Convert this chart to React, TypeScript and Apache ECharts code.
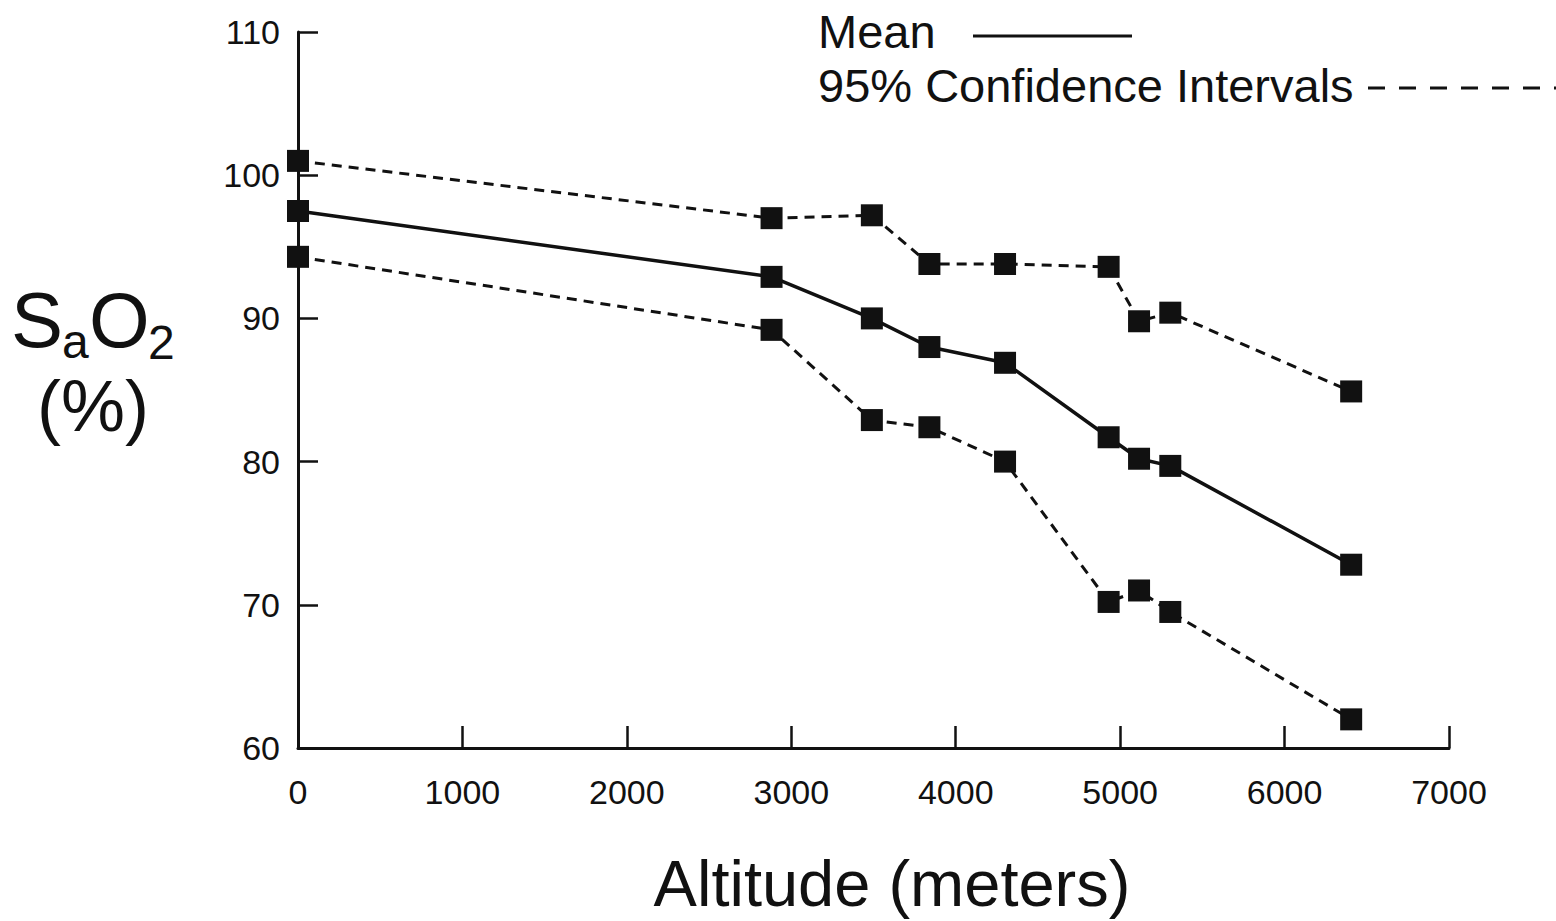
import React, { useEffect, useRef } from "react";
import * as echarts from "echarts";

const altitude = [0, 2880, 3490, 3840, 4300, 4930, 5115, 5305, 6405];
const meanSaO2 = [97.5, 92.9, 90.0, 88.0, 86.9, 81.7, 80.2, 79.7, 72.8];
const upperCI = [101.0, 97.0, 97.2, 93.8, 93.8, 93.6, 89.8, 90.4, 84.9];
const lowerCI = [94.3, 89.2, 82.9, 82.4, 80.0, 70.2, 71.0, 69.5, 62.0];

const xTicks = { min: 0, max: 7000, interval: 1000 };
const yTicks = { min: 60, max: 110, interval: 10 };

const FONT = "'Liberation Sans', Arial, Helvetica, sans-serif";
const INK = "#111";

function pairs(xs: number[], ys: number[]) {
  return xs.map((x, i) => [x, ys[i]]);
}

export default function App() {
  const ref = useRef<HTMLDivElement>(null);
  useEffect(() => {
    document.body.style.margin = "0";
    if (!ref.current) return;
    const chart = echarts.init(ref.current, null, { renderer: "svg" });
    const dashed = {
      type: "line",
      symbol: "rect",
      symbolSize: 22,
      itemStyle: { color: INK },
      lineStyle: { color: INK, width: 3, type: [10, 7] },
      z: 3,
    };
    chart.setOption({
      animation: false,
      backgroundColor: "#fff",
      grid: { left: 298, right: 107, top: 32, bottom: 173, outerBoundsMode: "none", containLabel: false },
      xAxis: {
        type: "value",
        min: xTicks.min,
        max: xTicks.max,
        interval: xTicks.interval,
        axisLine: { show: true, lineStyle: { color: INK, width: 3 } },
        axisTick: { show: true, inside: true, length: 22, lineStyle: { color: INK, width: 2.5 } },
        axisLabel: { color: INK, fontSize: 34, fontFamily: FONT, margin: 27, formatter: (v: number) => String(v) },
        splitLine: { show: false },
      },
      yAxis: {
        type: "value",
        min: yTicks.min,
        max: yTicks.max,
        interval: yTicks.interval,
        axisLine: { show: true, lineStyle: { color: INK, width: 3 } },
        axisTick: { show: true, inside: true, length: 20, lineStyle: { color: INK, width: 2.5 } },
        axisLabel: { color: INK, fontSize: 34, fontFamily: FONT, margin: 18, formatter: (v: number) => String(v) },
        splitLine: { show: false },
      },
      series: [
        { ...dashed, name: "Upper 95% CI", data: pairs(altitude, upperCI) },
        {
          type: "line",
          name: "Mean",
          symbol: "rect",
          symbolSize: 22,
          itemStyle: { color: INK },
          lineStyle: { color: INK, width: 3.5, type: "solid" },
          data: pairs(altitude, meanSaO2),
          z: 4,
        },
        { ...dashed, name: "Lower 95% CI", data: pairs(altitude, lowerCI) },
      ],
      graphic: [
        { type: "text", x: 818, y: 31, style: { text: "Mean", font: `47px ${FONT}`, fill: INK, textAlign: "left", textVerticalAlign: "middle" } },
        { type: "line", shape: { x1: 973, y1: 36, x2: 1132, y2: 36 }, style: { stroke: INK, lineWidth: 3 } },
        { type: "text", x: 818, y: 85, style: { text: "95% Confidence Intervals", font: `47px ${FONT}`, fill: INK, textAlign: "left", textVerticalAlign: "middle" } },
        { type: "line", shape: { x1: 1368, y1: 88, x2: 1556, y2: 88 }, style: { stroke: INK, lineWidth: 3, lineDash: [17, 14] } },
        { type: "text", x: 11, y: 320, style: { text: "S", font: `78px ${FONT}`, fill: INK, textAlign: "left", textVerticalAlign: "middle" } },
        { type: "text", x: 62, y: 341, style: { text: "a", font: `48px ${FONT}`, fill: INK, textAlign: "left", textVerticalAlign: "middle" } },
        { type: "text", x: 89, y: 320, style: { text: "O", font: `78px ${FONT}`, fill: INK, textAlign: "left", textVerticalAlign: "middle" } },
        { type: "text", x: 148, y: 342, style: { text: "2", font: `48px ${FONT}`, fill: INK, textAlign: "left", textVerticalAlign: "middle" } },
        { type: "text", x: 93, y: 406, style: { text: "(%)", font: `72px ${FONT}`, fill: INK, textAlign: "center", textVerticalAlign: "middle" } },
        { type: "text", x: 892, y: 883, style: { text: "Altitude (meters)", font: `65px ${FONT}`, fill: INK, textAlign: "center", textVerticalAlign: "middle" } },
      ],
    });
    return () => chart.dispose();
  }, []);
  return <div ref={ref} style={{ width: 1556, height: 921 }} />;
}
